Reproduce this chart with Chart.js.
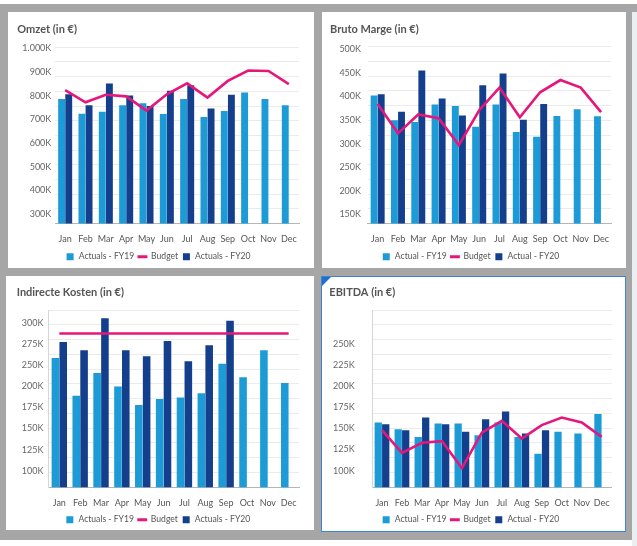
<!DOCTYPE html>
<html>
<head>
<meta charset="utf-8">
<script src="https://cdn.jsdelivr.net/npm/chart.js@4.4.1/dist/chart.umd.min.js"></script>
<style>
body{margin:0;background:#fff;width:637px;height:546px;position:relative;overflow:hidden}
#frame{position:absolute;left:0;top:4px;width:632px;height:536px;background:#a6a6a6}
#side{position:absolute;left:632px;top:4px;width:5px;height:542px;background:#a6a6a6}
#side2{position:absolute;left:632px;top:12px;width:5px;height:534px;background:#eceff1}
.panel{position:absolute;background:#fff;overflow:hidden}
.panel canvas{position:absolute;left:0;top:0}
#p4{border:1px solid #3b85d6;box-sizing:border-box}
#tri{position:absolute;left:0;top:0;width:0;height:0;border-top:9px solid #1f6fd1;border-right:9px solid transparent;z-index:2}
</style>
</head>
<body>
<div id="frame"></div>
<div id="side"></div>
<div id="side2"></div>
<div class="panel" id="p1" style="left:8px;top:12px;width:306px;height:256px"><canvas id="c1"></canvas></div>
<div class="panel" id="p2" style="left:322px;top:12px;width:304px;height:256px"><canvas id="c2"></canvas></div>
<div class="panel" id="p3" style="left:6px;top:276px;width:308px;height:254px"><canvas id="c3"></canvas></div>
<div class="panel" id="p4" style="left:321px;top:276px;width:305px;height:256px"><div id="tri"></div><canvas id="c4"></canvas></div>
<script>
const months = ['Jan','Feb','Mar','Apr','May','Jun','Jul','Aug','Sep','Oct','Nov','Dec'];

const omzetFY19  = [786000,724000,732000,760000,768000,723000,786000,710000,735000,813000,786000,760000];
const omzetFY20  = [806000,760000,851000,801000,756000,821000,844000,746000,804000,null,null,null];
const omzetBudget = [823000,772000,804000,797000,737000,806000,852000,792000,862000,906000,904000,849000];
const omzetTicks = [300000,400000,500000,600000,700000,800000,900000,1000000];
const omzetTickLabels = ['300K','400K','500K','600K','700K','800K','900K','1.000K'];

const brutoFY19  = [402000,350000,346000,383000,380000,336000,383000,325000,315000,359000,373000,358000];
const brutoFY20  = [405000,368000,455000,396000,360000,424000,449000,351000,384000,null,null,null];
const brutoBudget = [384000,322000,362000,354000,297000,371000,419000,356000,409000,435000,419000,367000];
const brutoTicks = [150000,200000,250000,300000,350000,400000,450000,500000];
const brutoTickLabels = ['150K','200K','250K','300K','350K','400K','450K','500K'];

const kostenFY19  = [259000,214000,241000,225000,203000,210000,212000,217000,252000,236000,268000,229000];
const kostenFY20  = [278000,268000,306000,268000,261000,279000,255000,274000,303000,null,null,null];
const kostenBudget = [288000,288000,288000,288000,288000,288000,288000,288000,288000,288000,288000,288000];
const kostenTicks = [125000,150000,175000,200000,225000,250000,275000,300000];
const kostenTickLabels = ['100K','125K','150K','175K','200K','250K','275K','300K'];

const ebitdaFY19  = [157000,149000,140000,156000,156000,142000,157000,140000,120000,146000,144000,167000];
const ebitdaFY20  = [155000,148000,163000,155000,146000,161000,170000,144000,148000,null,null,null];
const ebitdaBudget = [148000,121000,133000,135000,103000,145000,159000,138000,154000,163000,157000,140000];
const ebitdaTicks = [100000,125000,150000,175000,200000,225000,250000];
const ebitdaTickLabels = ['100K','125K','150K','175K','200K','225K','250K'];

const lightBlue = '#1d9bd7', darkBlue = '#133f8c', pink = '#e6177b';
Chart.defaults.font.family = "Lato, 'Open Sans', sans-serif";
Chart.defaults.animation = false;

function makeChart(id, g, title, names, fy19, budget, fy20, ticks, tickLabels, min, max, axisLine){
  const c = document.getElementById(id);
  const legendPad = 4;
  const xH = g.legendY - g.bottom - legendPad - 4.5;
  c.width = g.w;
  c.height = Math.round(g.bottom + xH + 23);
  new Chart(c, {
    data: {
      labels: months,
      datasets: [
        {type:'bar', label:names[0], data:fy19, backgroundColor:lightBlue, order:1, categoryPercentage:g.cat, barPercentage:0.97},
        {type:'line', label:names[1], data:budget, borderColor:pink, backgroundColor:pink, borderWidth:2.6, pointRadius:0, tension:0, order:0},
        {type:'bar', label:names[2], data:fy20, backgroundColor:darkBlue, order:1, categoryPercentage:g.cat, barPercentage:0.97}
      ]
    },
    options: {
      responsive:false,
      layout:{padding:{left:g.titleX, right:g.w - g.right, top:0, bottom:0}},
      plugins:{
        title:{display:true, text:title, align:'start', color:'#555',
          font:{size:11, weight:'bold'},
          padding:{top:g.titleY - 6.6, bottom:g.top - g.titleY - 6.6}},
        legend:{position:'bottom',
          labels:{usePointStyle:true, boxHeight:7, padding:legendPad, color:'#555', font:{size:8.6},
            generateLabels: ch => ch.data.datasets.map((d,i)=>({
              text:d.label, datasetIndex:i, hidden:false, fontColor:'#555',
              fillStyle:d.type==='line' ? d.borderColor : d.backgroundColor,
              strokeStyle:d.type==='line' ? d.borderColor : d.backgroundColor,
              lineWidth:d.type==='line' ? 3 : 0,
              pointStyle:d.type==='line' ? 'line' : 'rect'
            }))}},
        tooltip:{enabled:false}
      },
      scales:{
        x:{grid:{display:false}, border:{display:true, color:'#b5b5b5'},
          ticks:{color:'#555', font:{size:9}, padding:2, maxRotation:0, autoSkip:false},
          afterFit: s => { s.height = xH; }},
        y:{position:'left', min:min, max:max,
          grid:{display:false}, border:{display:axisLine, color:'#d6d6d6'},
          ticks:{color:'#666', font:{size:9}, padding:g.left - g.titleX - g.yW, callback:(v,i)=>tickLabels[i]},
          afterBuildTicks: s => { s.ticks = ticks.map(v=>({value:v})); },
          afterFit: s => { s.width = g.left - g.titleX; }},
        g:{position:'left', min:0, max:12, ticks:{display:false, stepSize:1},
          grid:{color:'#ebebeb', drawTicks:false}, border:{display:false},
          afterFit: s => { s.width = 0; }}
      }
    }
  });
}

makeChart('c1', {w:306, left:47, right:291, top:35.3, bottom:211.3, titleX:9.3, titleY:17.3, legendY:244.7, yW:42, cat:0.7},
  'Omzet (in €)', ['Actuals - FY19','Budget','Actuals - FY20'], omzetFY19, omzetBudget, omzetFY20,
  omzetTicks, omzetTickLabels, 260600, 1004000, false);
makeChart('c2', {w:304, left:45.5, right:289.2, top:34.7, bottom:211.3, titleX:8, titleY:17.3, legendY:244.7, yW:39, cat:0.7},
  'Bruto Marge (in €)', ['Actual - FY19','Budget','Actual - FY20'], brutoFY19, brutoBudget, brutoFY20,
  brutoTicks, brutoTickLabels, 130800, 505700, false);
makeChart('c3', {w:308, left:42.9, right:293.1, top:34, bottom:210.7, titleX:10.7, titleY:16.7, legendY:243.3, yW:34.7, cat:0.75},
  'Indirecte Kosten (in €)', ['Actuals - FY19','Budget','Actuals - FY20'], kostenFY19, kostenBudget, kostenFY20,
  kostenTicks, kostenTickLabels, 105200, 315900, true);
makeChart('c4', {w:303, left:50, right:289.7, top:33, bottom:209.7, titleX:7.3, titleY:15.7, legendY:242.3, yW:33.3, cat:0.75},
  'EBITDA (in €)', ['Actual - FY19','Budget','Actual - FY20'], ebitdaFY19, ebitdaBudget, ebitdaFY20,
  ebitdaTicks, ebitdaTickLabels, 80200, 290500, true);
</script>
</body>
</html>
